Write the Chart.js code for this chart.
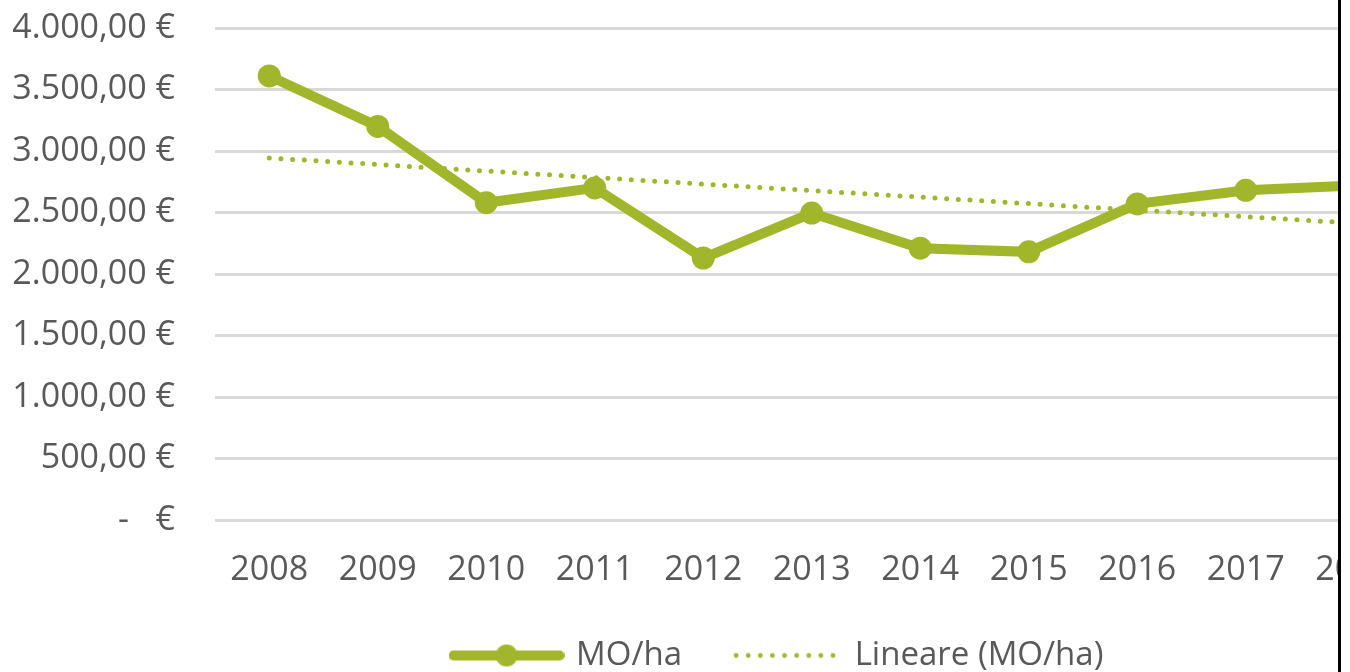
<!DOCTYPE html>
<html>
<head>
<meta charset="utf-8">
<script src="https://cdn.jsdelivr.net/npm/chart.js@4"></script>
<style>
  body { margin: 0; background: #fff; overflow: hidden; }
  #wrap { position: absolute; left: 0; top: 0; width: 1338px; height: 672px; overflow: hidden; }
  #edge { position: absolute; left: 1338px; top: 0; width: 3px; height: 672px; background: #000; }
</style>
</head>
<body>
<div id="wrap"><canvas id="canvas" width="1556" height="682"></canvas></div>
<div id="edge"></div>
<script>
// years on the x axis (the last ones are cut off by the crop of the picture)
let years = ['2008', '2009', '2010', '2011', '2012', '2013', '2014', '2015', '2016', '2017', '2018', '2019'];
// MO/ha in euro
let moHa = [3610, 3200, 2580, 2700, 2130, 2495, 2210, 2180, 2570, 2680, 2720, 2650];
// linear trend line
let trend = [2943, 2890, 2837, 2784, 2731, 2678, 2625, 2572, 2519, 2466, 2413, 2360];
let yTicks = [0, 500, 1000, 1500, 2000, 2500, 3000, 3500, 4000];

let green = '#A2B62B';
let textColor = '#595959';
let fontFamily = '"Open Sans", "DejaVu Sans", sans-serif';
let fontSize = 34;

let euro = function (v) {
  if (v === 0) return '-   €';
  let s = String(Math.round(v)).replace(/\B(?=(\d{3})+(?!\d))/g, '.');
  return s + ',00 €';
};

// legend symbols as little canvases
let lineSymbol = document.createElement('canvas');
lineSymbol.width = 116;
lineSymbol.height = 30;
let c1 = lineSymbol.getContext('2d');
c1.strokeStyle = green;
c1.fillStyle = green;
c1.lineWidth = 10;
c1.lineCap = 'round';
c1.beginPath();
c1.moveTo(5, 15);
c1.lineTo(111, 15);
c1.stroke();
c1.beginPath();
c1.arc(58, 15, 11, 0, Math.PI * 2);
c1.fill();

let dotSymbol = document.createElement('canvas');
dotSymbol.width = 106;
dotSymbol.height = 30;
let c2 = dotSymbol.getContext('2d');
c2.fillStyle = green;
for (let i = 0; i < 9; i++) {
  c2.beginPath();
  c2.arc(4 + i * 12.1, 15, 2.4, 0, Math.PI * 2);
  c2.fill();
}

// the legend is centred on the whole chart in the original, move it a bit
let legendShift = {
  id: 'legendShift',
  afterLayout: function (chart) {
    chart.legend.left += 20;
    chart.legend.right += 20;
  }
};

let ctx = document.getElementById('canvas').getContext('2d');
let chart = new Chart(ctx, {
  type: 'line',
  plugins: [legendShift],
  data: {
    labels: years,
    datasets: [{
      label: 'MO/ha',
      data: moHa,
      borderColor: green,
      backgroundColor: green,
      borderWidth: 10,
      pointRadius: 11.5,
      pointBorderWidth: 0,
      pointBackgroundColor: green,
      tension: 0
    }, {
      label: 'Lineare (MO/ha)',
      data: trend,
      borderColor: green,
      borderWidth: 5,
      borderDash: [0, 11.7],
      borderCapStyle: 'round',
      pointRadius: 0,
      tension: 0
    }]
  },
  options: {
    responsive: false,
    animation: false,
    devicePixelRatio: 1,
    layout: { padding: { left: 0, right: 39, top: 28, bottom: 0 } },
    plugins: {
      tooltip: { enabled: false },
      legend: {
        position: 'bottom',
        labels: {
          usePointStyle: true,
          pointStyleWidth: 106,
          padding: 50,
          color: textColor,
          font: { family: fontFamily, size: 33 },
          generateLabels: function (chart) {
            return [
              { text: 'MO/ha', pointStyle: lineSymbol, fillStyle: green, strokeStyle: green, lineWidth: 0, hidden: false, datasetIndex: 0, fontColor: textColor },
              { text: 'Lineare (MO/ha)', pointStyle: dotSymbol, fillStyle: green, strokeStyle: green, lineWidth: 0, hidden: false, datasetIndex: 1, fontColor: textColor }
            ];
          }
        }
      }
    },
    scales: {
      x: {
        offset: true,
        grid: { display: false, drawTicks: false },
        border: { display: false },
        afterFit: function (axis) {
          axis.height = 69;
        },
        ticks: {
          color: textColor,
          padding: 30,
          maxRotation: 0,
          autoSkip: false,
          font: { family: fontFamily, size: fontSize }
        }
      },
      y: {
        min: 0,
        max: 4000,
        afterBuildTicks: function (axis) {
          axis.ticks = yTicks.map(function (v) { return { value: v }; });
        },
        afterFit: function (axis) {
          axis.width = 215;
          axis.paddingTop = 0;
          axis.paddingBottom = 0;
        },
        grid: { color: '#D9D9D9', lineWidth: 3, drawTicks: false },
        border: { display: false },
        ticks: {
          color: textColor,
          padding: 40,
          font: { family: fontFamily, size: fontSize },
          callback: function (v) { return euro(v); }
        }
      }
    }
  }
});
</script>
</body>
</html>
